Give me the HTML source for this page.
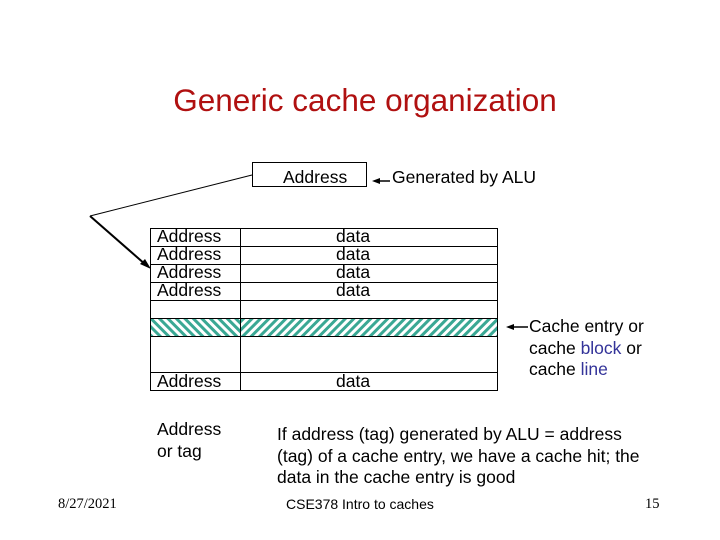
<!DOCTYPE html>
<html><head><meta charset="utf-8"><style>
body{margin:0;width:720px;height:540px;background:#fff;position:relative;font-family:"Liberation Sans",sans-serif;overflow:hidden}
.t{position:absolute;white-space:nowrap;color:#000}
</style></head><body>
<svg width="720" height="540" style="position:absolute;left:0;top:0">
<defs>
<pattern id="h1" width="6" height="6" patternUnits="userSpaceOnUse" patternTransform="rotate(45)"><rect width="6" height="6" fill="#fff"/><rect width="3" height="6" fill="#3aa894"/></pattern>
<pattern id="h2" width="6" height="6" patternUnits="userSpaceOnUse" patternTransform="rotate(-45)"><rect width="6" height="6" fill="#fff"/><rect width="3" height="6" fill="#3aa894"/></pattern>
</defs>
<rect x="150" y="318" width="90" height="18" fill="url(#h2)"/>
<rect x="240" y="318" width="258" height="18" fill="url(#h1)"/>
<g stroke="#000" stroke-width="1" fill="none">
<rect x="252.5" y="162.5" width="114" height="24"/>
<rect x="150.5" y="228.5" width="347" height="162"/>
<line x1="240.5" y1="228" x2="240.5" y2="390"/>
<line x1="150" y1="246.5" x2="498" y2="246.5"/>
<line x1="150" y1="264.5" x2="498" y2="264.5"/>
<line x1="150" y1="282.5" x2="498" y2="282.5"/>
<line x1="150" y1="300.5" x2="498" y2="300.5"/>
<line x1="150" y1="318.5" x2="498" y2="318.5"/>
<line x1="150" y1="336.5" x2="498" y2="336.5"/>
<line x1="150" y1="372.5" x2="498" y2="372.5"/>
<line x1="252" y1="175" x2="90" y2="216"/>
<line x1="90" y1="216" x2="146" y2="265" stroke-width="2"/>
<line x1="378" y1="181" x2="390" y2="181" stroke-width="1.5"/>
<line x1="513" y1="327" x2="528" y2="327" stroke-width="1.5"/>
</g>
<polygon points="151,269 140,264 145,259" fill="#000"/>
<polygon points="372,181 380,178 380,184" fill="#000"/>
<polygon points="506,327 514,324 514,330" fill="#000"/>
</svg>
<div class="t" style="left:0;width:730px;text-align:center;top:82px;font-size:31.5px;color:#b01010">Generic cache organization</div>
<div class="t" style="left:283px;top:167px;font-size:17.5px">Address</div>
<div class="t" style="left:392px;top:167px;font-size:17.5px">Generated by ALU</div>
<div class="t" style="left:157px;top:227px;font-size:17.5px;line-height:18px">Address<br>Address<br>Address<br>Address</div>
<div class="t" style="left:336px;top:227px;font-size:17.5px;line-height:18px">data<br>data<br>data<br>data</div>
<div class="t" style="left:157px;top:371px;font-size:17.5px">Address</div>
<div class="t" style="left:336px;top:371px;font-size:17.5px">data</div>
<div class="t" style="left:157px;top:418px;font-size:17.5px;line-height:22px">Address<br>or tag</div>
<div class="t" style="left:529px;top:316px;font-size:17.5px;line-height:21.5px">Cache entry or<br>cache <span style="color:#333399">block</span> or<br>cache <span style="color:#333399">line</span></div>
<div class="t" style="left:277px;top:424px;font-size:17.5px;line-height:21.5px">If address (tag) generated by ALU = address<br>(tag) of a cache entry, we have a cache hit; the<br>data in the cache entry is good</div>
<div class="t" style="left:58px;top:496px;font-size:14.5px;font-family:'Liberation Serif',serif">8/27/2021</div>
<div class="t" style="left:286px;top:496px;font-size:14px">CSE378 Intro to caches</div>
<div class="t" style="left:645px;top:496px;font-size:14.5px;font-family:'Liberation Serif',serif">15</div>
</body></html>
